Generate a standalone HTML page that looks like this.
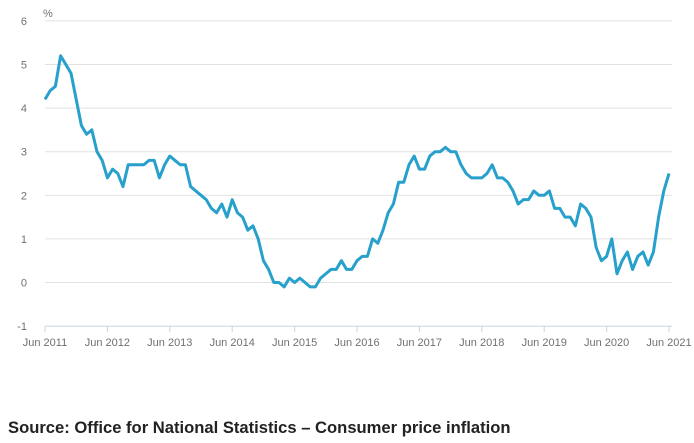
<!DOCTYPE html>
<html><head><meta charset="utf-8">
<style>
body{margin:0;background:#fff;width:694px;height:443px;overflow:hidden;font-family:"Liberation Sans",sans-serif}
#src{position:absolute;left:8px;top:418px;font-size:16.6px;font-weight:bold;color:#222}
</style></head><body>
<svg id="chart" width="694" height="443" style="position:absolute;left:0;top:0"></svg>
<div id="src">Source: Office for National Statistics – Consumer price inflation</div>
<script>
const yTicks=[-1,0,1,2,3,4,5,6];
const xLabels=["Jun 2011","Jun 2012","Jun 2013","Jun 2014","Jun 2015","Jun 2016","Jun 2017","Jun 2018","Jun 2019","Jun 2020","Jun 2021"];
const cpi=[4.2,4.4,4.5,5.2,5.0,4.8,4.2,
3.6,3.4,3.5,3.0,2.8,2.4,2.6,2.5,2.2,2.7,2.7,2.7,
2.7,2.8,2.8,2.4,2.7,2.9,2.8,2.7,2.7,2.2,2.1,2.0,
1.9,1.7,1.6,1.8,1.5,1.9,1.6,1.5,1.2,1.3,1.0,0.5,
0.3,0.0,0.0,-0.1,0.1,0.0,0.1,0.0,-0.1,-0.1,0.1,0.2,
0.3,0.3,0.5,0.3,0.3,0.5,0.6,0.6,1.0,0.9,1.2,1.6,
1.8,2.3,2.3,2.7,2.9,2.6,2.6,2.9,3.0,3.0,3.1,3.0,
3.0,2.7,2.5,2.4,2.4,2.4,2.5,2.7,2.4,2.4,2.3,2.1,
1.8,1.9,1.9,2.1,2.0,2.0,2.1,1.7,1.7,1.5,1.5,1.3,
1.8,1.7,1.5,0.8,0.5,0.6,1.0,0.2,0.5,0.7,0.3,0.6,
0.7,0.4,0.7,1.5,2.1,2.5];
const NS="http://www.w3.org/2000/svg";
const svg=document.getElementById('chart');
const X0=45,X1=669,Y0=282.5,YU=43.6;
const x=i=>X0+(X1-X0)*i/120;
const y=v=>Y0-v*YU;
function mk(t,a,p){const e=document.createElementNS(NS,t);for(const k in a)e.setAttribute(k,a[k]);(p||svg).appendChild(e);return e;}
yTicks.forEach(v=>{
  if(v>-1){const l=mk('line',{x1:X0,x2:X1+3,y1:y(v),y2:y(v),stroke:'#e2e2e2','stroke-width':1});
  
  }
  const t=mk('text',{x:27,y:y(v)+4,'text-anchor':'end','font-size':11,fill:'#707070'});
  t.textContent=v;
  
  
});
const ax=mk('line',{x1:X0,x2:X1+3,y1:y(-1),y2:y(-1),stroke:'#c8d3e8','stroke-width':1});


const pct=mk('text',{x:43,y:17,'font-size':11,fill:'#707070'});pct.textContent='%';


xLabels.forEach((s,i)=>{
  const xx=x(i*12);
  const tk=mk('line',{x1:xx,x2:xx,y1:y(-1),y2:y(-1)+6,stroke:'#c8d3e8'});
  
  
  const t=mk('text',{x:xx,y:346,'text-anchor':'middle','font-size':11,fill:'#707070'});
  t.textContent=s;
  
  
});
const p=mk('polyline',{points:cpi.map((v,i)=>x(i)+','+y(v)).join(' '),fill:'none',stroke:'#27a0cc','stroke-width':3,'stroke-linejoin':'round'});


</script>
</body></html>
